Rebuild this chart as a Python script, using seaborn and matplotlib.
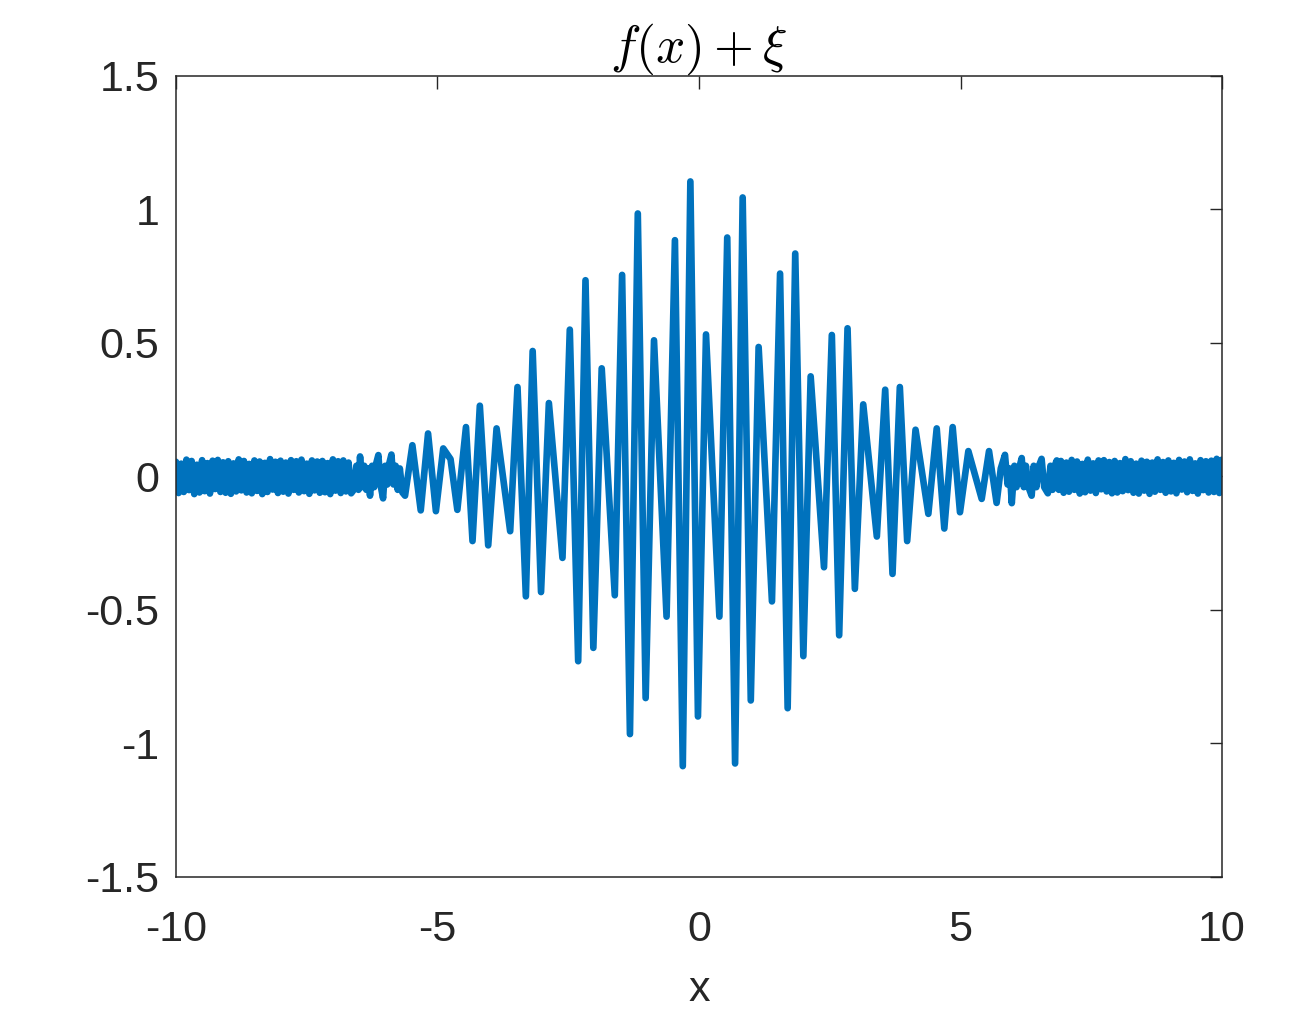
import numpy as np
import pandas as pd
import matplotlib
matplotlib.use("Agg")
import matplotlib.pyplot as plt
import seaborn as sns

# ---- data ----
# left noise band (x from -10 to -6.65)
left_noise_y = [0.055, -0.062, 0.048, -0.058, 0.063, -0.051, 0.058, -0.066, 0.044, -0.060,
                0.061, -0.055, 0.050, -0.064, 0.059, -0.047, 0.062, -0.058, 0.053, -0.061,
                0.057, -0.065, 0.049, -0.056, 0.064, -0.052, 0.058, -0.060, 0.047, -0.063,
                0.060, -0.054, 0.056, -0.066, 0.051, -0.058, 0.065, -0.049, 0.055, -0.062,
                0.059, -0.057, 0.052, -0.064, 0.061, -0.050, 0.057, -0.060, 0.063, -0.055,
                0.048, -0.065, 0.060, -0.052, 0.056, -0.061, 0.058, -0.059, 0.050, -0.066,
                0.064, -0.053, 0.057, -0.062, 0.060, -0.056, 0.052, -0.063]
left_trans_x = [-6.60, -6.55, -6.51, -6.48, -6.44, -6.40, -6.36, -6.32, -6.29, -6.25, -6.21,
                -6.17, -6.13, -6.09, -6.04, -6.00, -5.96, -5.92, -5.88, -5.84, -5.80, -5.76,
                -5.72, -5.67]
left_trans_y = [-0.050, 0.040, -0.050, 0.075, -0.040, 0.040, -0.050, 0.030, -0.072, 0.040, -0.040,
                0.050, 0.080, -0.030, -0.082, 0.040, -0.030, 0.050, 0.082, -0.030, 0.040, -0.050,
                0.030, -0.060]
# main oscillation: peak / trough vertices
center_x = [-5.62, -5.48, -5.32, -5.18, -5.03, -4.89, -4.75, -4.62, -4.455, -4.33, -4.19, -4.03,
            -3.87, -3.61, -3.47, -3.31, -3.18, -3.02, -2.87, -2.61, -2.47, -2.31, -2.17, -2.02,
            -1.86, -1.61, -1.47, -1.32, -1.17, -1.02, -0.86, -0.62, -0.46, -0.31, -0.165, -0.02,
            0.134, 0.39, 0.54, 0.69, 0.835, 0.99, 1.14, 1.395, 1.55, 1.695, 1.84, 1.995, 2.135,
            2.39, 2.54, 2.68, 2.84, 2.98, 3.14, 3.40, 3.56, 3.70, 3.84, 3.98, 4.14, 4.385, 4.545,
            4.69, 4.85, 4.99, 5.15, 5.405, 5.545, 5.69]
center_y = [-0.072, 0.117, -0.127, 0.161, -0.130, 0.105, 0.065, -0.125, 0.185, -0.242, 0.265, -0.258,
            0.180, -0.205, 0.335, -0.449, 0.470, -0.433, 0.275, -0.305, 0.550, -0.692, 0.735, -0.642,
            0.405, -0.445, 0.755, -0.965, 0.985, -0.830, 0.510, -0.525, 0.885, -1.085, 1.105, -0.899,
            0.532, -0.525, 0.895, -1.075, 1.045, -0.839, 0.485, -0.468, 0.760, -0.868, 0.835, -0.673, 0.375,
            -0.340, 0.530, -0.595, 0.555, -0.421, 0.270, -0.225, 0.325, -0.365, 0.335, -0.242, 0.175, -0.140, 0.180,
            -0.195, 0.185, -0.134, 0.095, -0.084, 0.095, -0.099]
right_trans_x = [5.77, 5.85, 5.90, 5.94, 5.98, 6.03, 6.07, 6.12, 6.17, 6.21, 6.25, 6.30, 6.36,
                 6.40, 6.45, 6.50, 6.55, 6.60, 6.67, 6.72, 6.76, 6.80, 6.84, 6.88]
right_trans_y = [0.030, 0.081, -0.030, 0.030, -0.100, 0.040, -0.040, 0.030, 0.069, -0.040, 0.040,
                 -0.040, -0.072, 0.040, -0.040, 0.040, 0.066, -0.040, -0.063, 0.040, -0.050, 0.040,
                 0.060, -0.050]
# right noise band (x from 6.92 to 10)
right_noise_y = [0.058, -0.061, 0.052, -0.057, 0.062, -0.050, 0.056, -0.064, 0.047, -0.059,
                 0.063, -0.053, 0.049, -0.062, 0.060, -0.048, 0.061, -0.056, 0.054, -0.063,
                 0.058, -0.060, 0.050, -0.055, 0.065, -0.051, 0.057, -0.061, 0.048, -0.064,
                 0.059, -0.053, 0.055, -0.065, 0.052, -0.057, 0.064, -0.050, 0.054, -0.061,
                 0.060, -0.056, 0.051, -0.063, 0.062, -0.049, 0.056, -0.059, 0.064, -0.054,
                 0.049, -0.064, 0.061, -0.051, 0.057, -0.060, 0.059, -0.058, 0.066, -0.062,
                 0.063]

x_ticks = [-10, -5, 0, 5, 10]
x_tick_labels = ["-10", "-5", "0", "5", "10"]
y_ticks = [-1.5, -1, -0.5, 0, 0.5, 1, 1.5]
y_tick_labels = ["-1.5", "-1", "-0.5", "0", "0.5", "1", "1.5"]

# ---- assemble ----
left_noise_x = np.linspace(-10, -6.65, len(left_noise_y))
right_noise_x = np.linspace(6.92, 10, len(right_noise_y))
x = np.concatenate([left_noise_x, left_trans_x, center_x, right_trans_x, right_noise_x])
y = np.concatenate([left_noise_y, left_trans_y, center_y, right_trans_y, right_noise_y])
df = pd.DataFrame({"x": x, "y": y})

sns.set_style("white")
plt.rcParams["font.family"] = ["Liberation Sans", "DejaVu Sans"]
plt.rcParams["mathtext.fontset"] = "cm"
plt.rcParams["axes.unicode_minus"] = False

fig = plt.figure(figsize=(13.16, 10.17), dpi=100)
ax = fig.add_axes([0.1337, 0.1377, 0.7949, 0.7876])

sns.lineplot(data=df, x="x", y="y", ax=ax, color="#0072BD", linewidth=4.8,
             estimator=None, sort=False)

ax.set_xlim(-10, 10)
ax.set_ylim(-1.5, 1.5)
ax.set_xticks(x_ticks)
ax.set_xticklabels(x_tick_labels)
ax.set_yticks(y_ticks)
ax.set_yticklabels(y_tick_labels)
ax.tick_params(direction="in", length=9, width=1, top=True, right=True,
               labelsize=31, colors="#262626", pad=12)
ax.tick_params(axis="x", pad=24)
for s in ax.spines.values():
    s.set_visible(True)
    s.set_color("#262626")
    s.set_linewidth(1.1)
ax.set_xlabel("x", fontsize=31, color="#262626", labelpad=14)
ax.set_ylabel("")
ax.set_title(r"$f(x)+\xi$", fontsize=37, color="black", pad=10)

fig.savefig("out.png", dpi=100)
